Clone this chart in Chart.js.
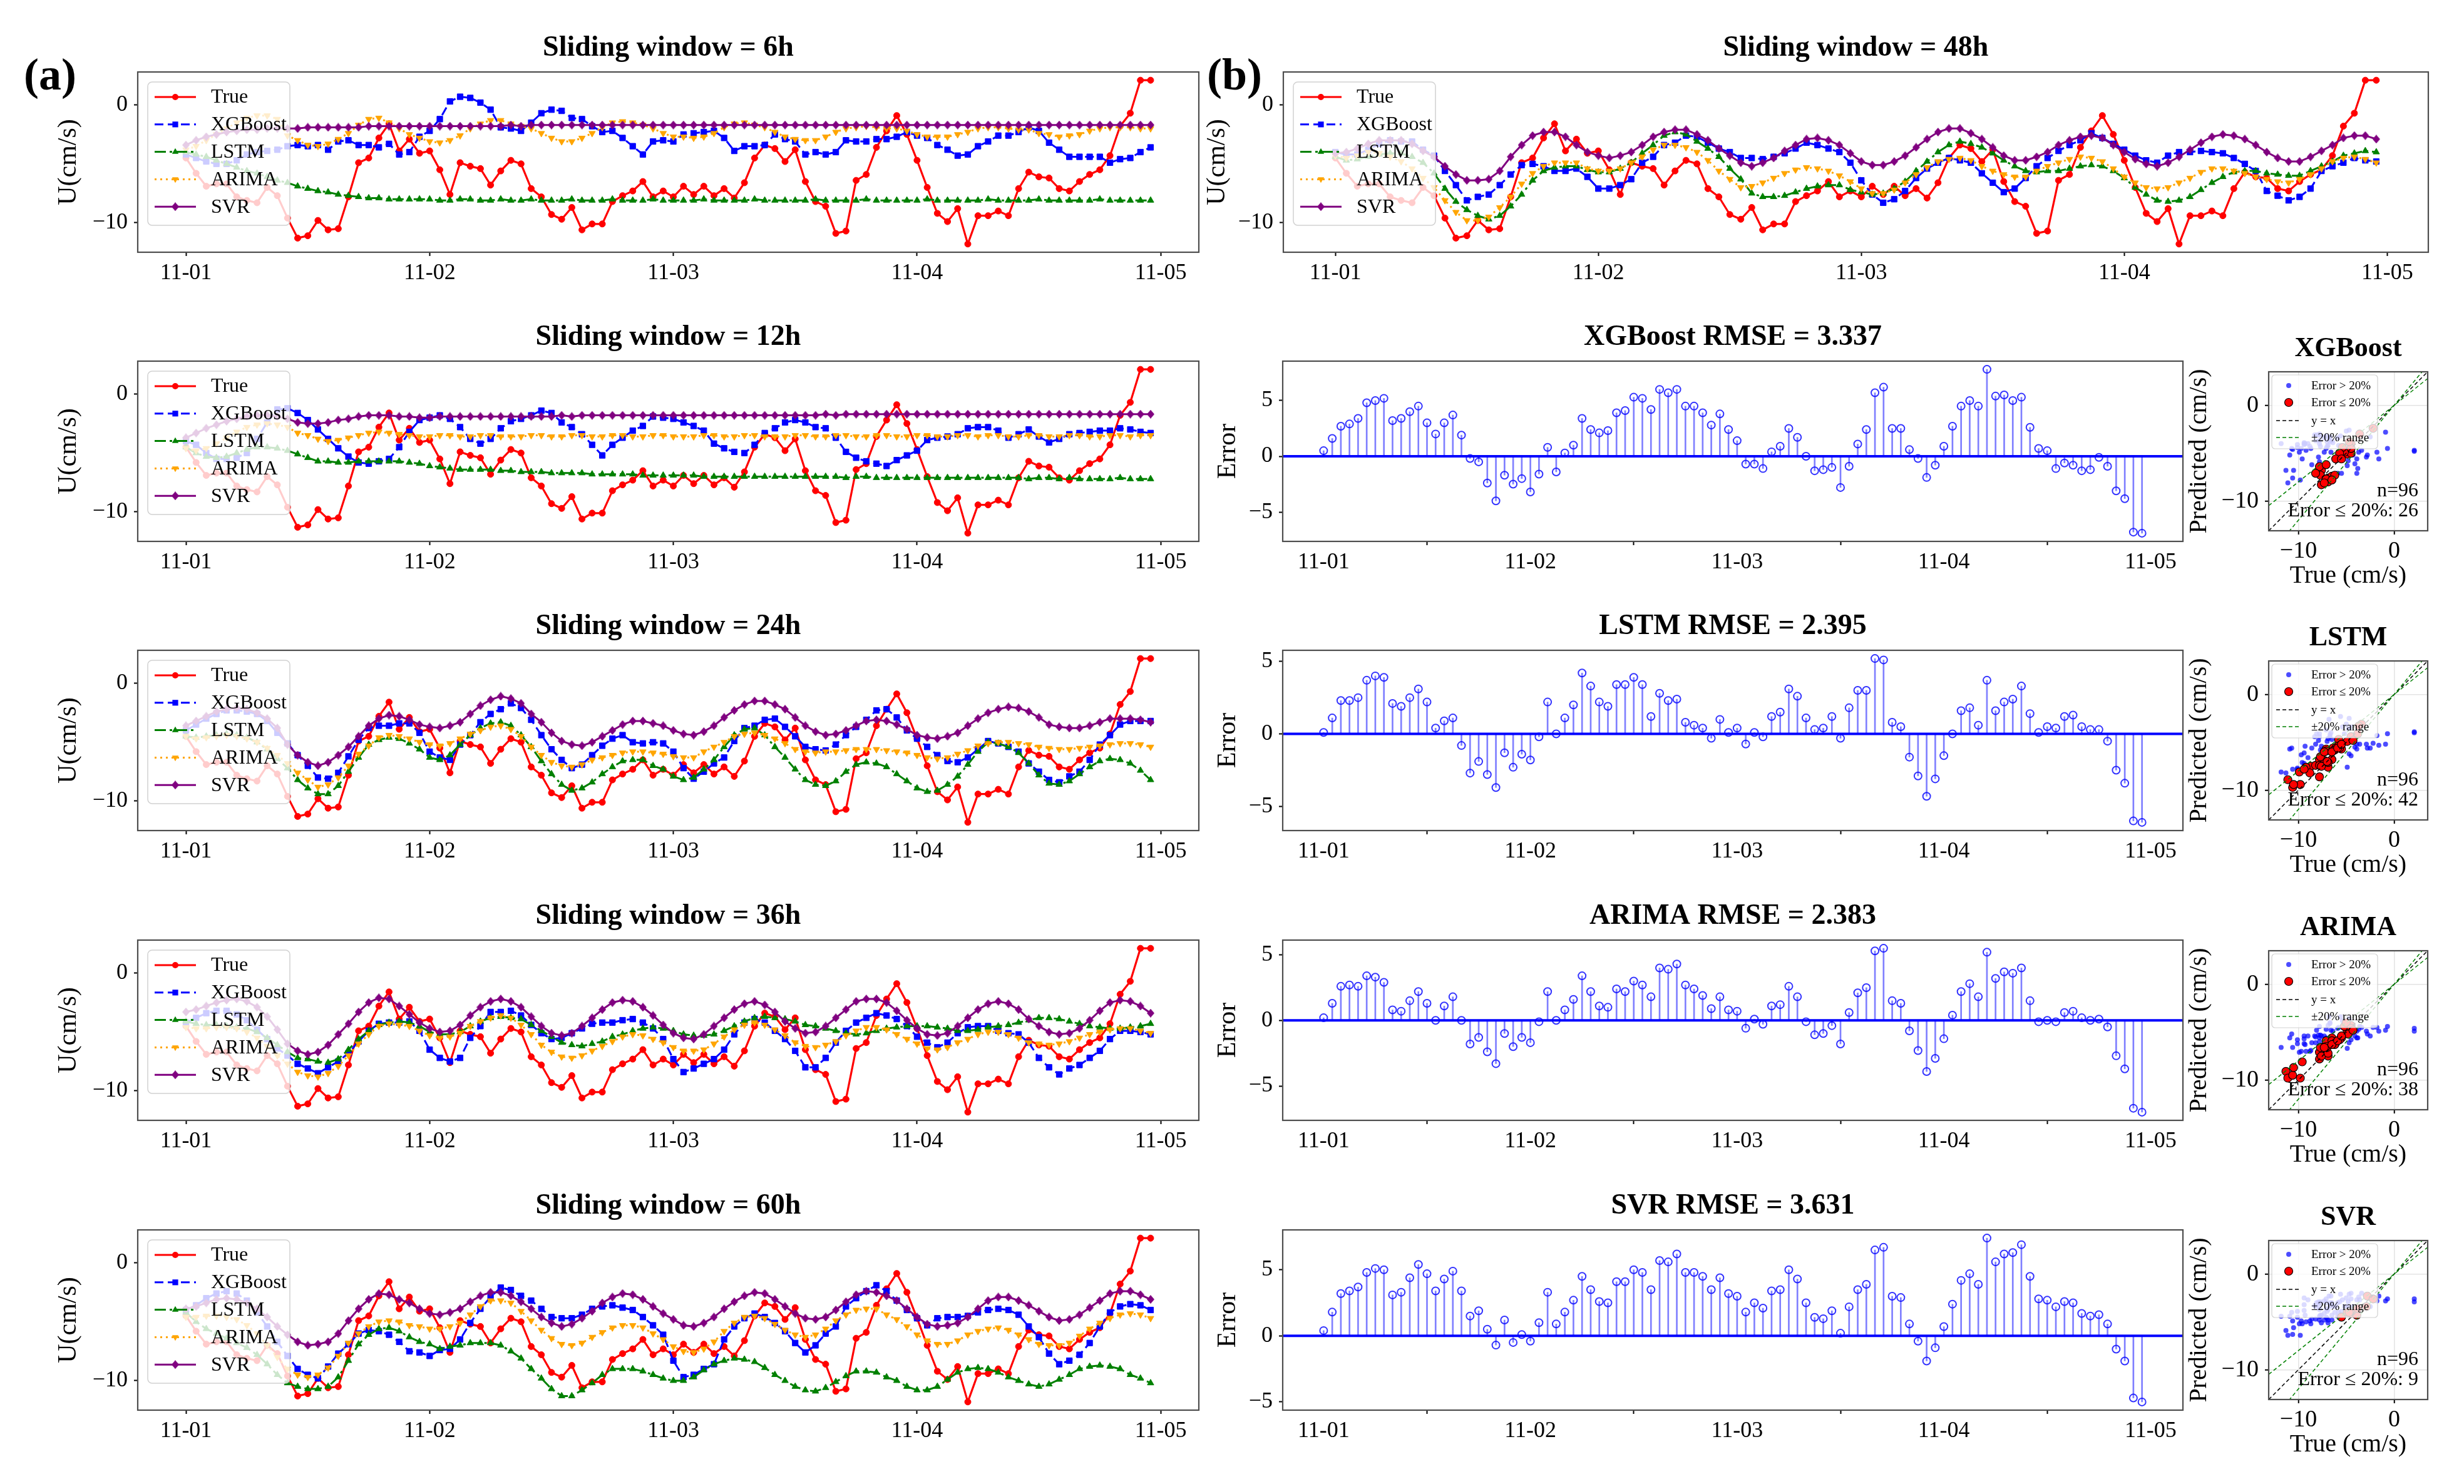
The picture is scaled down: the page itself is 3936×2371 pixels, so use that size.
<!DOCTYPE html>
<html>
<head>
<meta charset="utf-8">
<script src="https://cdn.jsdelivr.net/npm/chart.js"></script>
<style>
  body { margin: 0; background: #fff; }
  #fig { position: relative; width: 3936px; height: 2371px; background: #fff; overflow: hidden; }
  #fig canvas { position: absolute; }
  .plabel { position: absolute; font: bold 72px 'Liberation Serif', 'Times New Roman', serif; line-height: 72px; color: #000; }
</style>
</head>
<body>
<div id="fig">
  <div class="plabel" style="left:38px; top:83px;">(a)</div>
  <div class="plabel" style="left:1928px; top:83px;">(b)</div>
</div>
<script>
// ---- data (hourly, 11-01 00:00 .. 11-04 23:00) ----
const dayTicks = ['11-01', '11-02', '11-03', '11-04', '11-05'];
const dayTickHours = [0, 24, 48, 72, 96];
const uTicks = [-10, 0];
const errTicks = [-5, 0, 5];
const scTicks = [-10, 0];

const trueU = [
  -4.5,-5.8,-6.9,-6.7,-6.7,-7.8,-8.1,-8.3,-7.0,-7.7,
  -9.6,-11.3,-11.1,-9.8,-10.6,-10.5,-7.8,-4.9,-4.5,-2.8,
  -1.6,-3.9,-2.9,-4.1,-3.9,-5.5,-7.6,-4.9,-5.2,-5.4,
  -6.8,-5.6,-4.7,-5.0,-7.1,-7.8,-9.3,-9.7,-8.7,-10.6,
  -10.1,-10.1,-8.2,-7.7,-7.3,-6.5,-7.8,-7.3,-7.8,-6.9,
  -7.6,-6.9,-7.7,-7.1,-7.9,-6.6,-4.5,-3.4,-3.7,-4.8,
  -3.8,-6.5,-8.2,-8.6,-10.9,-10.7,-6.4,-5.9,-3.6,-2.2,
  -0.9,-2.5,-4.7,-7.0,-9.2,-9.9,-8.8,-11.8,-9.4,-9.4,
  -9.0,-9.4,-7.1,-5.7,-6.1,-6.2,-7.1,-7.3,-6.5,-5.9,
  -5.5,-4.3,-1.8,-0.7,2.1,2.1];

// sliding window = 6h
const xgb6h = [
  -4.2,-4.5,-4.8,-5.0,-5.0,-4.7,-4.2,-4.0,-3.9,-3.8,
  -3.5,-3.4,-3.5,-3.4,-3.8,-3.1,-3.0,-3.4,-3.4,-3.6,
  -3.3,-4.2,-4.0,-2.7,-2.2,-1.2,0.3,0.7,0.6,0.2,
  -0.4,-1.9,-2.0,-2.2,-1.5,-0.7,-0.4,-0.5,-1.1,-1.2,
  -1.8,-2.3,-2.2,-2.8,-3.5,-4.2,-3.1,-3.0,-3.1,-2.5,
  -2.4,-2.3,-2.2,-2.8,-3.9,-3.5,-3.5,-3.4,-2.5,-2.9,
  -3.1,-4.2,-4.0,-4.2,-4.0,-3.0,-3.1,-3.1,-2.9,-2.9,
  -2.7,-2.3,-2.6,-2.8,-3.4,-3.8,-4.3,-4.2,-3.5,-3.1,
  -2.6,-2.6,-2.3,-1.9,-2.2,-3.2,-3.8,-4.4,-4.4,-4.4,
  -4.4,-4.9,-4.6,-4.5,-4.0,-3.6];
const lstm6h = [
  -4.0,-4.2,-4.4,-4.7,-5.0,-5.3,-5.6,-5.8,-6.1,-6.4,
  -6.6,-6.9,-7.1,-7.3,-7.4,-7.6,-7.7,-7.8,-7.9,-7.9,
  -8.0,-8.0,-8.0,-8.0,-8.0,-8.1,-8.1,-8.0,-8.0,-8.1,
  -8.1,-8.0,-8.1,-8.1,-8.0,-8.1,-8.1,-8.1,-8.0,-8.1,
  -8.1,-8.1,-8.0,-8.1,-8.1,-8.1,-8.0,-8.1,-8.1,-8.1,
  -8.1,-8.0,-8.1,-8.1,-8.1,-8.1,-8.0,-8.1,-8.1,-8.1,
  -8.1,-8.1,-8.0,-8.1,-8.1,-8.1,-8.1,-8.0,-8.1,-8.1,
  -8.1,-8.1,-8.1,-8.0,-8.1,-8.1,-8.1,-8.1,-8.1,-8.0,
  -8.1,-8.1,-8.1,-8.1,-8.0,-8.1,-8.1,-8.1,-8.1,-8.1,
  -8.0,-8.1,-8.1,-8.1,-8.1,-8.1];
const arima6h = [
  -3.8,-3.5,-3.0,-2.5,-2.0,-1.5,-1.1,-0.9,-0.9,-1.2,
  -2.6,-3.0,-3.4,-3.5,-3.3,-2.9,-2.4,-1.7,-1.2,-1.1,
  -1.5,-2.0,-2.5,-2.8,-3.1,-3.2,-3.0,-2.6,-2.0,-1.6,
  -1.3,-1.3,-1.6,-1.8,-2.0,-2.4,-2.8,-3.1,-3.1,-2.8,
  -2.4,-1.9,-1.5,-1.4,-1.5,-1.7,-2.0,-2.4,-2.7,-2.7,
  -2.8,-2.7,-2.4,-1.9,-1.6,-1.5,-1.7,-1.9,-2.3,-2.7,
  -2.9,-3.0,-3.0,-2.7,-2.3,-2.0,-1.9,-1.8,-1.9,-2.0,
  -2.0,-2.2,-2.5,-2.7,-2.7,-2.7,-2.5,-2.3,-2.0,-1.9,
  -1.9,-2.0,-2.1,-2.1,-2.4,-2.5,-2.7,-2.6,-2.5,-2.2,
  -2.0,-1.9,-1.9,-1.9,-2.0,-2.0];
const svr6h = [
  -3.4,-3.0,-2.7,-2.5,-2.3,-2.2,-2.1,-2.1,-2.0,-2.0,
  -2.0,-2.0,-1.9,-1.9,-1.9,-1.9,-1.9,-1.9,-1.8,-1.8,
  -1.8,-1.8,-1.8,-1.8,-1.8,-1.8,-1.8,-1.8,-1.8,-1.8,
  -1.8,-1.8,-1.7,-1.8,-1.7,-1.7,-1.7,-1.7,-1.7,-1.7,
  -1.7,-1.7,-1.7,-1.7,-1.7,-1.7,-1.7,-1.7,-1.7,-1.7,
  -1.7,-1.7,-1.7,-1.7,-1.7,-1.7,-1.7,-1.7,-1.7,-1.7,
  -1.7,-1.7,-1.7,-1.7,-1.7,-1.7,-1.7,-1.7,-1.7,-1.7,
  -1.7,-1.7,-1.7,-1.7,-1.7,-1.7,-1.7,-1.7,-1.7,-1.7,
  -1.7,-1.7,-1.7,-1.7,-1.7,-1.7,-1.7,-1.7,-1.7,-1.7,
  -1.7,-1.7,-1.7,-1.7,-1.7,-1.7];

// sliding window = 12h
const xgb12h = [
  -4.0,-4.3,-5.0,-5.5,-5.5,-5.4,-5.0,-3.8,-2.4,-1.3,
  -1.2,-1.6,-2.2,-3.0,-3.8,-4.6,-5.3,-5.8,-5.9,-5.7,
  -5.5,-4.5,-3.2,-2.2,-2.0,-1.8,-2.1,-2.8,-3.8,-4.2,
  -3.8,-2.9,-2.3,-2.1,-1.8,-1.4,-1.6,-2.4,-2.8,-3.4,
  -4.3,-5.2,-4.3,-3.7,-3.1,-2.7,-1.9,-2.0,-2.1,-2.4,
  -2.7,-3.1,-4.2,-4.6,-4.9,-5.0,-4.3,-3.3,-2.9,-2.4,
  -2.2,-2.4,-2.8,-2.9,-3.7,-4.9,-5.4,-5.7,-5.9,-6.1,
  -5.6,-5.2,-4.8,-3.9,-3.7,-3.6,-3.4,-2.9,-2.8,-2.8,
  -3.1,-3.7,-3.4,-3.0,-3.6,-4.1,-3.8,-3.4,-3.3,-3.2,
  -3.1,-3.1,-2.9,-3.0,-3.2,-3.3];
const lstm12h = [
  -4.5,-5.0,-5.3,-5.4,-5.3,-5.0,-4.7,-4.5,-4.5,-4.6,
  -4.8,-5.1,-5.4,-5.7,-5.7,-5.8,-5.8,-5.7,-5.7,-5.7,
  -5.7,-5.7,-5.8,-5.9,-6.1,-6.2,-6.3,-6.4,-6.4,-6.4,
  -6.4,-6.5,-6.5,-6.6,-6.6,-6.6,-6.7,-6.7,-6.7,-6.7,
  -6.8,-6.8,-6.8,-6.8,-6.8,-6.9,-6.9,-6.9,-6.9,-6.9,
  -6.9,-7.0,-7.0,-7.0,-7.0,-7.0,-7.0,-7.0,-7.0,-7.0,
  -7.0,-7.0,-7.0,-7.0,-7.0,-7.1,-7.0,-7.0,-7.1,-7.1,
  -7.1,-7.1,-7.1,-7.1,-7.1,-7.1,-7.1,-7.1,-7.1,-7.1,
  -7.1,-7.1,-7.1,-7.2,-7.1,-7.1,-7.2,-7.1,-7.2,-7.2,
  -7.2,-7.2,-7.1,-7.2,-7.2,-7.2];
const arima12h = [
  -4.6,-4.8,-4.6,-4.2,-3.7,-3.2,-2.8,-2.6,-2.5,-2.6,
  -2.8,-3.3,-3.5,-3.8,-4.0,-3.9,-3.7,-3.5,-3.3,-3.2,
  -3.3,-3.4,-3.5,-3.6,-3.6,-3.5,-3.5,-3.6,-3.6,-3.5,
  -3.5,-3.6,-3.6,-3.6,-3.5,-3.5,-3.6,-3.6,-3.5,-3.5,
  -3.6,-3.6,-3.5,-3.5,-3.6,-3.6,-3.5,-3.5,-3.6,-3.6,
  -3.6,-3.5,-3.5,-3.6,-3.6,-3.5,-3.5,-3.6,-3.6,-3.6,
  -3.5,-3.5,-3.6,-3.6,-3.5,-3.5,-3.6,-3.6,-3.5,-3.5,
  -3.6,-3.6,-3.5,-3.5,-3.6,-3.6,-3.5,-3.5,-3.6,-3.5,
  -3.5,-3.6,-3.6,-3.5,-3.5,-3.6,-3.6,-3.5,-3.5,-3.6,
  -3.6,-3.5,-3.5,-3.6,-3.5,-3.5];
const svr12h = [
  -3.7,-3.3,-2.9,-2.6,-2.3,-2.1,-1.9,-1.8,-1.8,-1.9,
  -2.1,-2.4,-2.5,-2.5,-2.4,-2.2,-2.1,-1.9,-1.8,-1.8,
  -1.8,-1.9,-1.9,-2.0,-2.0,-1.9,-1.9,-1.9,-1.9,-1.9,
  -1.9,-1.9,-1.9,-1.9,-1.9,-1.9,-1.9,-1.8,-1.9,-1.8,
  -1.8,-1.8,-1.8,-1.8,-1.8,-1.8,-1.8,-1.8,-1.8,-1.8,
  -1.8,-1.8,-1.8,-1.8,-1.8,-1.8,-1.8,-1.8,-1.8,-1.8,
  -1.8,-1.8,-1.8,-1.7,-1.8,-1.7,-1.7,-1.7,-1.7,-1.7,
  -1.7,-1.7,-1.7,-1.7,-1.7,-1.7,-1.7,-1.7,-1.7,-1.7,
  -1.7,-1.7,-1.7,-1.7,-1.7,-1.7,-1.7,-1.7,-1.7,-1.7,
  -1.7,-1.7,-1.7,-1.7,-1.7,-1.7];

// sliding window = 24h
const xgb24h = [
  -4.0,-3.5,-3.0,-2.6,-2.3,-2.3,-2.4,-2.6,-3.2,-4.2,
  -5.1,-6.1,-7.0,-8.0,-8.1,-7.6,-6.2,-4.8,-3.8,-3.6,
  -3.6,-3.4,-3.4,-4.2,-5.8,-6.3,-6.5,-5.2,-4.4,-3.3,
  -2.6,-2.2,-1.7,-2.1,-3.1,-4.4,-5.6,-6.5,-7.2,-6.9,
  -6.1,-5.3,-4.7,-4.4,-5.0,-5.1,-5.0,-5.1,-5.8,-7.2,
  -8.1,-7.5,-6.8,-6.3,-4.9,-3.8,-3.6,-3.1,-3.0,-3.7,
  -4.5,-5.4,-5.6,-5.7,-5.2,-4.4,-3.7,-3.1,-2.3,-2.2,
  -2.9,-4.0,-4.7,-5.4,-6.1,-6.6,-6.7,-6.3,-5.6,-4.9,
  -5.1,-5.4,-5.8,-6.8,-7.5,-8.2,-8.4,-7.9,-7.5,-6.5,
  -5.2,-4.4,-3.5,-3.2,-3.2,-3.2];
const lstm24h = [
  -4.5,-4.6,-4.5,-4.4,-4.3,-4.4,-4.6,-5.0,-5.6,-6.4,
  -7.2,-8.2,-8.9,-9.4,-9.4,-8.7,-7.5,-6.3,-5.2,-4.8,
  -4.6,-4.7,-5.1,-5.6,-6.3,-6.5,-6.1,-5.2,-4.4,-3.8,
  -3.4,-3.3,-3.6,-4.4,-5.4,-6.6,-7.7,-8.6,-9.1,-8.9,
  -8.4,-7.7,-7.1,-6.6,-6.5,-6.5,-7.0,-7.3,-7.9,-8.2,
  -8.0,-7.3,-6.5,-5.4,-4.4,-3.9,-3.8,-4.4,-5.4,-6.3,
  -7.3,-8.2,-8.6,-8.7,-8.3,-7.5,-6.9,-6.7,-6.8,-7.1,
  -7.7,-8.3,-8.9,-9.2,-9.1,-8.6,-7.9,-6.9,-5.8,-5.0,
  -5.1,-5.4,-5.9,-6.8,-7.8,-8.5,-8.6,-8.3,-7.7,-7.1,
  -6.6,-6.4,-6.5,-6.8,-7.4,-8.2];
const arima24h = [
  -4.5,-4.7,-4.6,-4.5,-4.4,-4.5,-4.7,-5.0,-5.5,-6.1,
  -6.8,-7.6,-8.2,-8.8,-8.6,-8.0,-7.0,-6.0,-5.3,-4.6,
  -4.4,-4.5,-4.7,-5.0,-5.2,-5.3,-5.1,-4.7,-4.3,-4.0,
  -3.7,-3.6,-3.9,-4.5,-5.4,-6.1,-6.7,-7.0,-7.1,-6.9,
  -6.5,-6.3,-6.1,-5.9,-5.8,-5.8,-5.9,-6.0,-6.2,-6.3,
  -6.3,-5.8,-5.4,-5.0,-4.5,-4.3,-4.2,-4.4,-4.7,-5.1,
  -5.6,-5.8,-5.9,-5.8,-5.8,-5.7,-5.6,-5.6,-5.6,-5.7,
  -5.8,-5.9,-6.1,-6.3,-6.4,-6.3,-6.0,-5.7,-5.3,-5.1,
  -5.0,-5.0,-5.1,-5.2,-5.4,-5.5,-5.6,-5.6,-5.5,-5.4,
  -5.3,-5.2,-5.1,-5.1,-5.2,-5.4];
const svr24h = [
  -3.6,-3.2,-2.8,-2.4,-2.2,-2.1,-2.2,-2.5,-3.0,-3.8,
  -5.2,-6.1,-6.7,-7.0,-6.7,-6.1,-5.4,-4.5,-3.6,-3.0,
  -2.7,-2.8,-3.1,-3.5,-3.7,-3.8,-3.6,-3.3,-2.6,-1.9,
  -1.4,-1.1,-1.3,-1.7,-2.6,-3.3,-4.2,-4.9,-5.2,-5.3,
  -5.0,-4.5,-4.0,-3.5,-3.2,-3.2,-3.4,-3.6,-4.0,-4.3,
  -4.4,-4.1,-3.6,-2.9,-2.3,-1.8,-1.5,-1.5,-1.8,-2.2,
  -2.9,-3.6,-4.1,-4.4,-4.3,-4.0,-3.6,-3.2,-3.1,-3.2,
  -3.5,-3.9,-4.4,-4.6,-4.7,-4.5,-4.2,-3.6,-3.0,-2.5,
  -2.2,-2.0,-2.1,-2.4,-2.9,-3.5,-3.7,-3.8,-3.8,-3.6,
  -3.3,-3.0,-3.0,-3.0,-3.1,-3.3];

// sliding window = 36h
const xgb36h = [
  -4.2,-3.8,-3.4,-3.2,-3.2,-3.5,-4.0,-4.8,-5.6,-6.4,
  -7.0,-7.7,-8.1,-8.5,-8.0,-7.5,-6.8,-5.8,-4.9,-4.3,
  -4.2,-4.2,-4.1,-4.9,-6.5,-7.2,-7.5,-7.2,-5.5,-4.5,
  -3.3,-3.3,-3.2,-3.6,-4.4,-5.1,-5.6,-5.5,-5.1,-4.7,
  -4.3,-4.2,-4.2,-4.0,-3.9,-4.2,-4.7,-5.6,-7.3,-8.4,
  -8.1,-7.7,-7.3,-6.5,-5.2,-4.2,-3.9,-4.2,-4.9,-5.6,
  -6.6,-8.0,-8.0,-7.2,-5.9,-4.9,-4.2,-3.8,-3.4,-3.6,
  -3.9,-4.5,-5.4,-5.9,-6.3,-5.9,-5.1,-4.6,-4.5,-4.5,
  -4.9,-5.1,-5.2,-5.9,-7.2,-8.0,-8.6,-8.1,-7.8,-7.2,
  -6.6,-5.6,-4.9,-4.9,-5.0,-5.2];
const lstm36h = [
  -4.1,-4.3,-4.4,-4.4,-4.5,-4.6,-4.7,-5.0,-5.5,-6.1,
  -6.7,-7.2,-7.3,-7.5,-7.6,-7.3,-6.5,-5.6,-4.9,-4.4,
  -4.2,-4.1,-4.2,-4.5,-5.0,-5.2,-5.2,-5.0,-4.5,-4.1,
  -3.8,-3.7,-3.8,-3.9,-4.4,-4.9,-5.4,-5.9,-6.1,-6.2,
  -6.0,-5.8,-5.4,-5.2,-4.9,-4.7,-4.6,-4.7,-4.9,-5.2,
  -5.3,-5.3,-5.2,-4.9,-4.5,-4.1,-3.8,-3.7,-3.8,-3.9,
  -4.1,-4.4,-4.5,-4.7,-4.9,-5.1,-5.2,-5.1,-4.9,-4.7,
  -4.6,-4.5,-4.5,-4.5,-4.6,-4.7,-4.9,-4.9,-4.8,-4.6,
  -4.5,-4.4,-4.2,-4.0,-3.8,-3.8,-3.9,-4.1,-4.3,-4.5,
  -4.6,-4.7,-4.7,-4.6,-4.5,-4.3];
const arima36h = [
  -4.6,-4.7,-4.7,-4.6,-4.6,-4.7,-5.0,-5.5,-6.2,-7.0,
  -7.7,-8.4,-8.7,-8.8,-8.5,-7.9,-7.0,-6.0,-5.2,-4.5,
  -4.3,-4.4,-4.5,-4.9,-5.3,-5.5,-5.4,-5.1,-4.5,-4.1,
  -3.8,-3.6,-3.8,-4.4,-5.2,-6.1,-6.7,-7.1,-7.2,-7.0,
  -6.6,-6.2,-5.8,-5.4,-5.2,-5.3,-5.6,-5.9,-6.3,-6.6,
  -6.6,-6.5,-6.0,-5.4,-4.8,-4.4,-4.2,-4.4,-4.8,-5.3,
  -5.9,-6.2,-6.3,-6.1,-5.8,-5.3,-4.9,-4.6,-4.6,-4.8,
  -5.2,-5.6,-6.0,-6.4,-6.5,-6.3,-5.9,-5.6,-5.2,-5.0,
  -5.0,-5.2,-5.5,-5.9,-6.0,-6.1,-6.0,-5.8,-5.5,-5.2,
  -5.0,-4.8,-4.7,-4.7,-4.9,-5.1];
const svr36h = [
  -3.3,-3.1,-2.8,-2.5,-2.3,-2.2,-2.4,-2.9,-3.7,-4.8,
  -6.0,-6.6,-6.9,-6.7,-6.1,-5.2,-4.3,-3.3,-2.5,-2.1,
  -2.2,-2.8,-3.5,-4.2,-4.7,-5.0,-4.9,-4.4,-3.6,-2.9,
  -2.4,-2.2,-2.4,-2.9,-3.7,-4.5,-5.1,-5.3,-5.1,-4.5,
  -3.8,-3.1,-2.5,-2.3,-2.4,-2.9,-3.6,-4.4,-5.1,-5.5,
  -5.6,-5.2,-4.5,-3.8,-3.1,-2.6,-2.4,-2.7,-3.3,-4.1,
  -4.7,-5.1,-5.0,-4.5,-3.8,-3.1,-2.4,-2.2,-2.2,-2.5,
  -3.2,-4.0,-4.7,-5.2,-5.3,-5.1,-4.5,-3.8,-3.1,-2.6,
  -2.4,-2.6,-3.1,-3.9,-4.5,-5.0,-5.2,-5.1,-4.7,-4.0,
  -3.2,-2.5,-2.3,-2.4,-2.8,-3.4];

// sliding window = 48h (also used for the error and scatter panels)
const xgb48h = [
  -4.0,-4.2,-4.2,-3.8,-3.3,-3.0,-3.1,-3.1,-3.8,-4.3,
  -5.6,-6.8,-8.1,-7.8,-7.6,-6.8,-5.9,-5.1,-5.0,-5.2,
  -5.6,-5.6,-5.4,-6.1,-7.1,-7.1,-6.8,-6.3,-4.9,-4.4,
  -3.4,-3.2,-2.6,-2.7,-3.2,-3.7,-4.0,-4.5,-4.5,-4.6,
  -4.4,-4.1,-3.7,-3.2,-3.4,-3.7,-4.0,-4.9,-6.4,-7.6,
  -8.3,-8.0,-7.3,-6.2,-5.4,-4.9,-4.5,-4.7,-4.9,-5.8,
  -6.6,-7.4,-7.1,-6.2,-5.2,-4.5,-3.9,-3.4,-3.0,-2.4,
  -2.8,-3.3,-3.8,-4.3,-4.7,-4.9,-4.3,-4.0,-4.0,-3.9,
  -4.0,-4.1,-4.5,-5.0,-5.6,-7.3,-7.7,-8.1,-7.8,-7.1,
  -5.6,-5.2,-4.9,-4.5,-4.7,-4.8];
const lstm48h = [
  -4.4,-4.7,-4.6,-4.4,-4.2,-4.1,-4.1,-4.4,-4.9,-5.8,
  -7.1,-8.2,-8.9,-9.4,-9.7,-9.4,-8.6,-7.6,-6.4,-5.6,
  -5.3,-5.2,-5.2,-5.5,-5.7,-5.7,-5.4,-4.9,-4.1,-3.4,
  -2.6,-2.3,-2.5,-3.1,-3.7,-4.4,-5.4,-6.3,-7.5,-7.8,
  -7.8,-7.7,-7.4,-7.1,-6.9,-6.8,-6.8,-7.2,-7.4,-7.6,
  -7.5,-7.1,-6.5,-5.6,-4.8,-4.0,-3.4,-3.1,-3.3,-3.6,
  -4.1,-4.7,-5.2,-5.6,-5.7,-5.6,-5.6,-5.4,-5.2,-5.1,
  -5.2,-5.6,-6.2,-7.0,-7.6,-8.1,-8.2,-8.1,-7.8,-7.2,
  -6.6,-6.1,-5.7,-5.6,-5.6,-5.8,-5.9,-6.0,-6.0,-5.6,
  -5.2,-4.8,-4.3,-4.1,-3.9,-4.0];
const arima48h = [
  -4.3,-4.5,-4.3,-4.0,-4.1,-4.4,-4.8,-5.4,-6.2,-7.0,
  -8.1,-9.1,-9.8,-9.8,-9.5,-8.7,-7.8,-6.7,-5.8,-5.2,
  -4.9,-4.9,-4.9,-5.4,-5.6,-5.6,-5.4,-4.9,-4.4,-3.8,
  -3.4,-3.4,-3.6,-4.0,-4.7,-5.6,-6.3,-7.0,-6.9,-6.6,
  -6.2,-5.8,-5.5,-5.3,-5.4,-5.6,-6.0,-6.5,-7.1,-7.5,
  -7.5,-7.2,-6.6,-5.9,-5.3,-4.8,-4.6,-4.5,-4.7,-5.2,
  -5.6,-5.9,-6.1,-6.1,-5.6,-5.2,-4.9,-4.6,-4.4,-4.5,
  -4.8,-5.4,-6.1,-6.6,-7.0,-7.1,-7.0,-6.6,-6.2,-5.7,
  -5.4,-5.4,-5.6,-5.8,-6.1,-6.3,-6.5,-6.6,-6.3,-5.9,
  -5.4,-4.8,-4.5,-4.4,-4.6,-4.9];
const svr48h = [
  -4.1,-4.0,-3.7,-3.3,-3.0,-3.0,-3.0,-3.3,-3.9,-4.4,
  -5.2,-5.9,-6.4,-6.4,-6.3,-5.6,-4.4,-3.4,-2.6,-2.3,
  -2.3,-2.7,-3.4,-4.0,-4.3,-4.5,-4.3,-4.0,-3.4,-2.7,
  -2.3,-2.1,-2.1,-2.5,-3.0,-3.7,-4.3,-4.9,-5.2,-4.9,
  -4.5,-3.9,-3.4,-2.9,-2.8,-3.0,-3.4,-4.1,-4.8,-5.1,
  -5.1,-4.8,-4.3,-3.6,-2.9,-2.3,-2.0,-2.0,-2.4,-2.9,
  -3.6,-4.3,-4.7,-4.7,-4.4,-4.0,-3.4,-3.0,-2.7,-2.6,
  -2.8,-3.4,-4.0,-4.6,-5.0,-5.2,-4.9,-4.4,-3.8,-3.2,
  -2.7,-2.5,-2.6,-2.9,-3.4,-4.0,-4.5,-4.8,-4.8,-4.4,
  -3.9,-3.4,-2.8,-2.6,-2.6,-2.9];

// sliding window = 60h
const xgb60h = [
  -4.0,-3.6,-3.0,-2.6,-2.4,-2.6,-3.2,-4.2,-5.4,-6.7,
  -7.9,-9.0,-9.5,-9.8,-8.8,-7.7,-6.9,-6.0,-5.7,-5.8,
  -6.1,-6.7,-7.5,-7.6,-7.9,-7.4,-7.3,-6.5,-5.1,-3.9,
  -2.9,-2.1,-2.3,-2.8,-3.2,-3.9,-4.6,-4.7,-4.7,-4.4,
  -3.9,-3.7,-3.6,-3.8,-4.0,-4.6,-5.3,-6.1,-8.3,-9.7,
  -9.5,-9.0,-8.6,-6.5,-5.4,-4.7,-4.3,-4.6,-5.1,-5.8,
  -6.8,-7.6,-7.0,-6.0,-5.4,-3.7,-3.0,-2.4,-1.9,-2.4,
  -3.2,-4.0,-4.7,-5.3,-4.7,-4.6,-4.6,-4.5,-4.2,-4.0,
  -3.9,-4.0,-4.4,-5.4,-6.3,-7.7,-8.6,-8.3,-7.8,-6.8,
  -5.4,-4.2,-3.7,-3.5,-3.6,-4.0];
const lstm60h = [
  -4.2,-5.0,-5.6,-6.0,-6.4,-6.8,-7.2,-7.8,-8.6,-9.5,
  -10.2,-10.5,-10.7,-10.7,-10.5,-9.7,-8.3,-6.9,-6.1,-5.6,
  -5.5,-5.8,-6.3,-6.7,-6.9,-7.3,-7.1,-7.0,-6.8,-6.8,
  -6.8,-7.0,-7.5,-8.1,-9.0,-9.8,-10.7,-11.3,-11.3,-10.8,
  -10.2,-9.5,-9.0,-9.0,-9.0,-9.2,-9.5,-9.8,-10.0,-10.0,
  -9.7,-9.1,-8.6,-8.3,-8.1,-8.2,-8.4,-8.9,-9.5,-10.0,
  -10.5,-10.8,-10.9,-10.6,-10.1,-9.6,-9.2,-9.2,-9.3,-9.7,
  -10.0,-10.5,-10.8,-10.8,-10.5,-9.9,-9.3,-9.0,-8.9,-9.0,
  -9.3,-9.7,-10.0,-10.3,-10.5,-10.3,-9.9,-9.5,-9.0,-8.8,
  -8.7,-8.8,-9.0,-9.5,-9.8,-10.2];
const arima60h = [
  -4.6,-4.6,-4.5,-4.5,-4.6,-4.8,-5.3,-6.0,-7.0,-8.0,
  -9.0,-9.5,-9.7,-9.5,-8.9,-7.9,-6.8,-6.0,-5.4,-5.0,
  -4.9,-5.0,-5.3,-5.4,-5.6,-5.6,-5.4,-5.1,-4.4,-3.7,
  -3.2,-3.2,-3.4,-4.1,-4.9,-5.7,-6.4,-6.9,-7.0,-6.8,
  -6.3,-5.9,-5.5,-5.3,-5.3,-5.5,-6.0,-6.5,-7.1,-7.5,
  -7.6,-7.3,-6.7,-5.8,-5.1,-4.6,-4.5,-4.7,-5.2,-5.7,
  -6.1,-6.3,-6.1,-5.6,-4.9,-4.4,-4.0,-3.9,-3.9,-4.4,
  -4.8,-5.4,-6.1,-6.6,-6.9,-6.9,-6.6,-6.1,-5.8,-5.6,
  -5.5,-5.7,-6.1,-6.5,-6.9,-7.0,-7.0,-6.8,-6.2,-5.6,
  -5.1,-4.7,-4.4,-4.3,-4.4,-4.7];
const svr60h = [
  -3.9,-3.7,-3.4,-3.1,-3.0,-3.1,-3.4,-3.9,-4.6,-5.4,
  -6.1,-6.7,-7.0,-6.9,-6.7,-6.0,-4.9,-3.9,-3.1,-2.6,
  -2.7,-3.1,-3.4,-3.9,-4.3,-4.4,-4.2,-3.9,-3.3,-2.8,
  -2.5,-2.5,-2.8,-3.3,-3.9,-4.6,-5.1,-5.4,-5.2,-4.7,
  -4.1,-3.4,-2.9,-2.6,-2.7,-3.1,-3.7,-4.3,-4.8,-5.3,
  -5.4,-5.1,-4.6,-3.9,-3.3,-2.8,-2.5,-2.6,-3.1,-3.7,
  -4.3,-4.7,-4.8,-4.6,-4.0,-3.3,-2.7,-2.4,-2.5,-2.8,
  -3.2,-3.9,-4.6,-5.2,-5.4,-5.3,-5.1,-4.6,-3.9,-3.2,
  -2.9,-2.9,-3.2,-3.6,-4.1,-4.6,-4.9,-4.8,-4.4,-3.8,
  -3.2,-2.6,-2.4,-2.4,-2.7,-3.1];

const modelNames = ['XGBoost', 'LSTM', 'ARIMA', 'SVR'];
const rmseText = ['3.337', '2.395', '2.383', '3.631'];
const within20Count = [26, 42, 38, 9];

// ---- styling / layout ----
const FONT = "'Liberation Serif', 'Times New Roman', serif";
Chart.defaults.font.family = FONT;
Chart.defaults.color = '#000';

const uRange = [-12.5, 2.8];
const hourRange = [-4.75, 99.75];
const scatterLim = [-13.1, 3.5];
const rowTops = [115, 577, 1039, 1502, 1965];
const axH = 288;

function makeDiamond(w, h, color) {
  const c = document.createElement('canvas');
  c.width = w; c.height = h;
  const g = c.getContext('2d');
  g.fillStyle = color;
  g.beginPath();
  g.moveTo(w / 2, 0); g.lineTo(w, h / 2); g.lineTo(w / 2, h); g.lineTo(0, h / 2);
  g.closePath(); g.fill();
  return c;
}

const legendNames = ['True', 'XGBoost', 'LSTM', 'ARIMA', 'SVR'];
const seriesStyle = {
  True:    { color: '#ff0000', dash: [], point: 'circle', r: 5, rot: 0, width: 3.2 },
  XGBoost: { color: '#0000ff', dash: [14, 7], point: 'rect', r: 6.5, rot: 0, width: 3 },
  LSTM:    { color: '#008000', dash: [18, 6, 4, 6], point: 'triangle', r: 6, rot: 0, width: 3 },
  ARIMA:   { color: '#ffa500', dash: [3, 6], point: 'triangle', r: 6, rot: 180, width: 3 },
  SVR:     { color: '#800080', dash: [], point: makeDiamond(12, 14, '#800080'), r: 6, rot: 0, width: 3 }
};

const fig = document.getElementById('fig');
function addCanvas(left, top, width, height) {
  const c = document.createElement('canvas');
  c.width = width; c.height = height;
  c.style.left = left + 'px'; c.style.top = top + 'px';
  c.style.width = width + 'px'; c.style.height = height + 'px';
  fig.appendChild(c);
  return c;
}
const toXY = arr => arr.map((v, i) => ({ x: i, y: v }));
const fmt = v => (v < 0 ? '\u2212' + Math.abs(v) : String(v));

function drawMarker(ctx, st, x, y) {
  ctx.save();
  ctx.setLineDash([]);
  ctx.fillStyle = st.color;
  if (st.point instanceof HTMLCanvasElement) {
    ctx.drawImage(st.point, x - st.point.width / 2, y - st.point.height / 2);
  } else {
    ctx.beginPath();
    if (st.point === 'circle') {
      ctx.arc(x, y, st.r, 0, Math.PI * 2);
    } else if (st.point === 'rect') {
      const s = st.r * Math.SQRT1_2;
      ctx.rect(x - s, y - s, 2 * s, 2 * s);
    } else {
      const d = st.rot === 180 ? -1 : 1;
      const h = st.r * 1.5;
      ctx.moveTo(x, y - d * h * 0.66);
      ctx.lineTo(x + st.r * 0.87, y + d * h * 0.34);
      ctx.lineTo(x - st.r * 0.87, y + d * h * 0.34);
      ctx.closePath();
    }
    ctx.fill();
  }
  ctx.restore();
}

function roundBox(ctx, x, y, w, h, r) {
  ctx.beginPath();
  ctx.moveTo(x + r, y);
  ctx.arcTo(x + w, y, x + w, y + h, r);
  ctx.arcTo(x + w, y + h, x, y + h, r);
  ctx.arcTo(x, y + h, x, y, r);
  ctx.arcTo(x, y, x + w, y, r);
  ctx.closePath();
}

const framePlugin = {
  id: 'frame',
  afterDraw(chart) {
    const { ctx, chartArea: a } = chart;
    ctx.save();
    ctx.setLineDash([]);
    ctx.strokeStyle = '#4d4d4d';
    ctx.lineWidth = 2.2;
    ctx.strokeRect(a.left, a.top, a.right - a.left, a.bottom - a.top);
    ctx.restore();
  }
};

const tsLegend = {
  id: 'tsLegend',
  afterDatasetsDraw(chart) {
    const { ctx, chartArea: a } = chart;
    ctx.save();
    roundBox(ctx, a.left + 16, a.top + 16, 227, 229, 7);
    ctx.fillStyle = 'rgba(255,255,255,0.8)';
    ctx.fill();
    ctx.strokeStyle = 'rgba(204,204,204,0.9)';
    ctx.lineWidth = 1.5;
    ctx.stroke();
    ctx.font = '32px ' + FONT;
    ctx.textBaseline = 'middle';
    legendNames.forEach((name, i) => {
      const st = seriesStyle[name];
      const y = a.top + 40 + 43.8 * i;
      ctx.setLineDash(st.dash);
      ctx.strokeStyle = st.color;
      ctx.lineWidth = st.width;
      ctx.beginPath();
      ctx.moveTo(a.left + 27, y);
      ctx.lineTo(a.left + 93, y);
      ctx.stroke();
      drawMarker(ctx, st, a.left + 60, y);
      ctx.fillStyle = '#000';
      ctx.fillText(name, a.left + 117, y + 1);
    });
    ctx.restore();
  }
};

function hourAxis(H) {
  return {
    type: 'linear', min: hourRange[0], max: hourRange[1], offset: false,
    afterBuildTicks: s => { s.ticks = dayTickHours.map(v => ({ value: v })); },
    ticks: { color: '#000', font: { family: FONT, size: 36 }, padding: 6, maxRotation: 0, autoSkip: false,
             callback: v => dayTicks[dayTickHours.indexOf(v)] },
    grid: { drawOnChartArea: false, drawTicks: true, tickLength: 6, tickWidth: 2, tickColor: '#000' },
    border: { display: false },
    afterFit: s => { s.height = H; }
  };
}

function valueAxis(range, ticks, yW, label, padTop) {
  return {
    type: 'linear', min: range[0], max: range[1],
    afterBuildTicks: s => { s.ticks = ticks.map(v => ({ value: v })); },
    ticks: { color: '#000', font: { family: FONT, size: 36 }, padding: 10, callback: fmt },
    grid: { drawOnChartArea: false, drawTicks: true, tickLength: 6, tickWidth: 2, tickColor: '#000' },
    border: { display: false },
    title: { display: true, text: label, color: '#000', font: { family: FONT, size: 42, lineHeight: 1.2 },
             padding: { top: padTop, bottom: 0 } },
    afterFit: s => { s.width = yW; }
  };
}

const baseOpts = { responsive: false, animation: false, devicePixelRatio: 1, events: [] };
function titleOpt(text, size, pt, pb) {
  // fullSize false: centre the title over the plot area, as matplotlib does
  return { display: true, fullSize: false, text, color: '#000',
           font: { family: FONT, size, weight: 'bold', lineHeight: 1.2 },
           padding: { top: pt, bottom: pb } };
}

// ---- time series panels ----
function timePanel(p) {
  const T = 80, B = 70, R = 40;
  const c = addCanvas(p.axL - p.yW, p.axT - T, p.yW + p.axW + R, T + axH + B);
  const datasets = legendNames.map((name, k) => {
    const st = seriesStyle[name];
    return {
      type: 'line', label: name, data: toXY(p.series[k]),
      borderColor: st.color, backgroundColor: st.color, borderWidth: st.width, borderDash: st.dash,
      pointStyle: st.point, pointRadius: st.r, pointRotation: st.rot,
      pointBackgroundColor: st.color, pointBorderColor: st.color, pointBorderWidth: 1,
      tension: 0, order: 5 - k
    };
  });
  new Chart(c, {
    type: 'line',
    data: { datasets },
    options: Object.assign({}, baseOpts, {
      layout: { padding: { left: 0, right: R, top: 0, bottom: 0 } },
      plugins: { legend: { display: false }, tooltip: { enabled: false }, title: titleOpt(p.title, 46, 14.4, 10.4) },
      scales: { x: hourAxis(B), y: valueAxis(uRange, uTicks, p.yW, 'U(cm/s)', p.yPad) }
    }),
    plugins: [tsLegend, framePlugin]
  });
}

const leftSeries = [
  ['6h', [trueU, xgb6h, lstm6h, arima6h, svr6h]],
  ['12h', [trueU, xgb12h, lstm12h, arima12h, svr12h]],
  ['24h', [trueU, xgb24h, lstm24h, arima24h, svr24h]],
  ['36h', [trueU, xgb36h, lstm36h, arima36h, svr36h]],
  ['60h', [trueU, xgb60h, lstm60h, arima60h, svr60h]]
];
leftSeries.forEach(([w, series], i) => {
  timePanel({ axL: 220, axT: rowTops[i], axW: 1695, yW: 170, yPad: 34.8,
              title: 'Sliding window = ' + w, series });
});
timePanel({ axL: 2050, axT: rowTops[0], axW: 1829, yW: 150, yPad: 19.8,
            title: 'Sliding window = 48h', series: [trueU, xgb48h, lstm48h, arima48h, svr48h] });

// ---- error (stem) panels, 48h window ----
const preds48 = [xgb48h, lstm48h, arima48h, svr48h];
const baselinePlugin = {
  id: 'baseline',
  beforeDatasetsDraw(chart) {
    const { ctx, chartArea: a, scales } = chart;
    const y0 = scales.y.getPixelForValue(0);
    ctx.save();
    ctx.strokeStyle = '#0000ff';
    ctx.lineWidth = 4;
    ctx.beginPath(); ctx.moveTo(a.left, y0); ctx.lineTo(a.right, y0); ctx.stroke();
    ctx.restore();
  }
};

function errorPanel(k) {
  const T = 80, B = 70, R = 40, yW = 120, axL = 2049, axW = 1438, axT = rowTops[k + 1];
  const errs = preds48[k].map((v, i) => +(v - trueU[i]).toFixed(2));
  const lo = Math.min(...errs), hi = Math.max(...errs), pad = 0.05 * (hi - lo);
  const c = addCanvas(axL - yW, axT - T, yW + axW + R, T + axH + B);
  new Chart(c, {
    type: 'scatter',
    data: {
      datasets: [
        { type: 'bar', data: toXY(errs), backgroundColor: 'rgba(0,0,255,0.5)', barThickness: 2, order: 2 },
        { type: 'scatter', data: toXY(errs), pointStyle: 'circle', pointRadius: 6,
          pointBackgroundColor: 'rgba(0,0,0,0)', pointBorderColor: 'rgba(0,0,255,0.8)', pointBorderWidth: 2, order: 1 }
      ]
    },
    options: Object.assign({}, baseOpts, {
      layout: { padding: { left: 0, right: R, top: 0, bottom: 0 } },
      plugins: { legend: { display: false }, tooltip: { enabled: false },
                 title: titleOpt(modelNames[k] + ' RMSE = ' + rmseText[k], 46, 14.4, 10.4) },
      scales: { x: hourAxis(B), y: valueAxis([lo - pad, hi + pad], errTicks, yW, 'Error', 7.8) }
    }),
    plugins: [baselinePlugin, framePlugin]
  });
}

// ---- scatter panels (Predicted vs True) ----
function scatterPanel(k) {
  const T = 70, B = 100, R = 30, yW = 140, axL = 3624, axW = 254, axT = rowTops[k + 1] + 17, sH = 254;
  const pred = preds48[k];
  const inside = [], outside = [];
  trueU.forEach((t, i) => {
    const pt = { x: t, y: pred[i] };
    (Math.abs(pred[i] - t) <= 0.2 * Math.abs(t) ? inside : outside).push(pt);
  });
  const c = addCanvas(axL - yW, axT - T, yW + axW + R, T + sH + B);
  const scAxis = (label, isX, pad) => ({
    type: 'linear', min: scatterLim[0], max: scatterLim[1],
    afterBuildTicks: s => { s.ticks = scTicks.map(v => ({ value: v })); },
    ticks: { color: '#000', font: { family: FONT, size: 38 }, padding: isX ? 4 : 10, maxRotation: 0, callback: fmt },
    grid: { drawOnChartArea: true, color: '#e3e3e3', lineWidth: 1.5, drawTicks: true, tickLength: 6, tickWidth: 2, tickColor: '#000' },
    border: { display: false },
    title: { display: true, text: label, color: '#000', font: { family: FONT, size: 40, lineHeight: 1 }, padding: pad },
    afterFit: s => { if (isX) s.height = B; else s.width = yW; }
  });
  const legendPlugin = {
    id: 'scLegend',
    afterDatasetsDraw(chart) {
      const { ctx, chartArea: a } = chart;
      ctx.save();
      roundBox(ctx, a.left + 5, a.top + 5, 169, 118, 5);
      ctx.fillStyle = 'rgba(255,255,255,0.8)'; ctx.fill();
      ctx.strokeStyle = 'rgba(204,204,204,0.9)'; ctx.lineWidth = 1.2; ctx.stroke();
      ctx.font = '19px ' + FONT; ctx.textBaseline = 'middle';
      const rows = [22, 49, 78, 105].map(v => a.top + v);
      ctx.fillStyle = 'rgba(0,0,255,0.7)';
      ctx.beginPath(); ctx.arc(a.left + 32, rows[0], 4, 0, Math.PI * 2); ctx.fill();
      ctx.fillStyle = '#ff0000'; ctx.strokeStyle = '#000'; ctx.lineWidth = 1.2;
      ctx.beginPath(); ctx.arc(a.left + 32, rows[1], 6.5, 0, Math.PI * 2); ctx.fill(); ctx.stroke();
      ctx.setLineDash([6, 4]); ctx.lineWidth = 1.5;
      ctx.strokeStyle = '#000';
      ctx.beginPath(); ctx.moveTo(a.left + 12, rows[2]); ctx.lineTo(a.left + 51, rows[2]); ctx.stroke();
      ctx.strokeStyle = '#008000';
      ctx.beginPath(); ctx.moveTo(a.left + 12, rows[3]); ctx.lineTo(a.left + 51, rows[3]); ctx.stroke();
      ctx.setLineDash([]);
      ctx.fillStyle = '#000';
      ['Error > 20%', 'Error \u2264 20%', 'y = x', '\u00b120% range'].forEach((t, i) => ctx.fillText(t, a.left + 68, rows[i] + 1));
      ctx.font = '32px ' + FONT; ctx.textAlign = 'right';
      ctx.fillText('n=' + trueU.length, a.right - 15, a.top + 191);
      ctx.fillText('Error \u2264 20%: ' + within20Count[k], a.right - 15, a.top + 223);
      ctx.restore();
    }
  };
  new Chart(c, {
    type: 'scatter',
    data: {
      datasets: [
        { type: 'scatter', data: outside, pointRadius: 4, pointBackgroundColor: 'rgba(0,0,255,0.7)', pointBorderWidth: 0, order: 5 },
        { type: 'scatter', data: inside, pointRadius: 6.5, pointBackgroundColor: '#ff0000', pointBorderColor: '#000', pointBorderWidth: 1.2, order: 4 },
        { type: 'line', data: scatterLim.map(v => ({ x: v, y: v })), borderColor: '#000', borderDash: [6, 4], borderWidth: 1.5, pointRadius: 0, order: 3 },
        { type: 'line', data: scatterLim.map(v => ({ x: v, y: v * 0.8 })), borderColor: '#008000', borderDash: [6, 4], borderWidth: 1.5, pointRadius: 0, order: 2 },
        { type: 'line', data: scatterLim.map(v => ({ x: v, y: v * 1.2 })), borderColor: '#008000', borderDash: [6, 4], borderWidth: 1.5, pointRadius: 0, order: 1 }
      ]
    },
    options: Object.assign({}, baseOpts, {
      layout: { padding: { left: 0, right: R, top: 0, bottom: 0 } },
      plugins: { legend: { display: false }, tooltip: { enabled: false }, title: titleOpt(modelNames[k], 44, 7.6, 9.6) },
      scales: {
        x: scAxis('True (cm/s)', true, { top: 0, bottom: 8 }),
        y: scAxis('Predicted (cm/s)', false, { top: 9, bottom: 0 })
      }
    }),
    plugins: [legendPlugin, framePlugin]
  });
}

for (let k = 0; k < 4; k++) { errorPanel(k); scatterPanel(k); }
</script>
</body>
</html>
